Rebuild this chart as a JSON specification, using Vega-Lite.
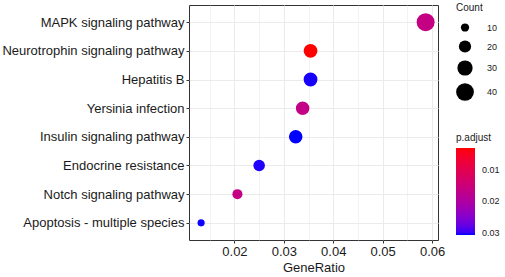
{
  "$schema": "https://vega.github.io/schema/vega-lite/v6.json",
  "width": 249,
  "height": 235,
  "autosize": {"type": "none"},
  "padding": {"left": 189, "top": 5, "right": 67, "bottom": 37},
  "background": "white",
  "config": {
    "font": "Liberation Sans",
    "view": {"stroke": "#333333", "strokeWidth": 1},
    "axis": {"labelColor": "#1a1a1a", "titleColor": "#1a1a1a", "tickColor": "#333333", "gridColor": "#ebebeb", "domain": false, "labelFont": "Liberation Sans", "titleFont": "Liberation Sans", "titleFontWeight": "normal"},
    "legend": {"labelFont": "Liberation Sans", "titleFont": "Liberation Sans", "titleFontWeight": "normal", "labelColor": "#1a1a1a", "titleColor": "#1a1a1a"}
  },
  "data": {
    "values": [
      {"Description": "MAPK signaling pathway", "GeneRatio": 0.0587, "Count": 41, "padj": 0.0162},
      {"Description": "Neurotrophin signaling pathway", "GeneRatio": 0.0354, "Count": 25, "padj": 0.0028},
      {"Description": "Hepatitis B", "GeneRatio": 0.0354, "Count": 25, "padj": 0.0306},
      {"Description": "Yersinia infection", "GeneRatio": 0.0338, "Count": 24, "padj": 0.0165},
      {"Description": "Insulin signaling pathway", "GeneRatio": 0.0324, "Count": 24, "padj": 0.0308},
      {"Description": "Endocrine resistance", "GeneRatio": 0.0250, "Count": 18, "padj": 0.0305},
      {"Description": "Notch signaling pathway", "GeneRatio": 0.0206, "Count": 14, "padj": 0.0163},
      {"Description": "Apoptosis - multiple species", "GeneRatio": 0.01325, "Count": 8, "padj": 0.0307}
    ]
  },
  "mark": {"type": "circle", "opacity": 1},
  "encoding": {
    "x": {
      "field": "GeneRatio", "type": "quantitative",
      "scale": {"domain": [0.0108, 0.0612], "nice": false, "zero": false},
      "axis": {
        "title": "GeneRatio", "titleFontSize": 13, "labelFontSize": 13, "titlePadding": 3,
        "values": [0.015, 0.02, 0.025, 0.03, 0.035, 0.04, 0.045, 0.05, 0.055, 0.06],
        "labelExpr": "abs(datum.value*100 - round(datum.value*100)) > 0.1 ? '' : format(datum.value, '.2f')",
        "tickSize": 3, "labelPadding": 2,
        "tickOpacity": {"condition": {"test": "abs(datum.value*100 - round(datum.value*100)) > 0.1", "value": 0}, "value": 1},
        "gridWidth": {"condition": {"test": "abs(datum.value*100 - round(datum.value*100)) > 0.1", "value": 0.6}, "value": 1},
        "labelFlush": false
      }
    },
    "y": {
      "field": "Description", "type": "nominal",
      "sort": ["MAPK signaling pathway", "Neurotrophin signaling pathway", "Hepatitis B", "Yersinia infection", "Insulin signaling pathway", "Endocrine resistance", "Notch signaling pathway", "Apoptosis - multiple species"],
      "scale": {"type": "point", "padding": 0.6},
      "axis": {"title": null, "labelFontSize": 13, "tickSize": 3, "labelPadding": 2, "labelLimit": 300, "grid": true}
    },
    "size": {
      "field": "Count", "type": "quantitative",
      "scale": {"domain": [5, 45], "range": [27, 355], "zero": false},
      "legend": {
        "title": "Count", "values": [10, 20, 30, 40], "orient": "none", "legendX": 267, "legendY": -2,
        "titleFontSize": 10, "labelFontSize": 9, "symbolFillColor": "black", "symbolStrokeWidth": 0, "symbolOpacity": 1,
        "titlePadding": 10, "rowPadding": 7, "labelOffset": 13
      }
    },
    "color": {
      "field": "padj", "type": "quantitative",
      "scale": {"domain": [0.0308, 0.0028], "range": ["#0000ff", "#ff0000"], "interpolate": "lab", "zero": false, "nice": false},
      "legend": {
        "title": "p.adjust", "orient": "none", "direction": "vertical", "legendX": 267, "legendY": 128,
        "values": [0.01, 0.02, 0.03], "gradientLength": 87, "gradientThickness": 19, "gradientStrokeWidth": 0,
        "titleFontSize": 10, "labelFontSize": 9, "titlePadding": 5, "labelOffset": 7, "format": ".2f"
      }
    }
  }
}
